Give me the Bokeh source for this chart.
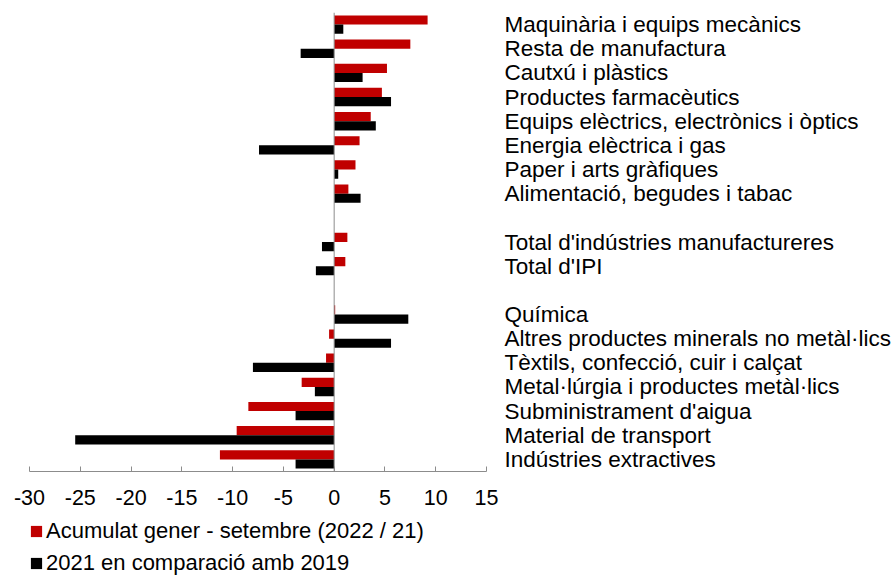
from bokeh.plotting import figure
from bokeh.layouts import column
from bokeh.models import (FactorRange, Range1d, CategoricalAxis, LinearAxis, Span, Legend,
                          LegendItem, ColumnDataSource, FixedTicker)
from bokeh.transform import dodge
from bokeh.embed import file_html
from bokeh.resources import INLINE

# ---- data ----
categories = [
    "Maquinària i equips mecànics",
    "Resta de manufactura",
    "Cautxú i plàstics",
    "Productes farmacèutics",
    "Equips elèctrics, electrònics i òptics",
    "Energia elèctrica i gas",
    "Paper i arts gràfiques",
    "Alimentació, begudes i tabac",
    " ",
    "Total d'indústries manufactureres",
    "Total d'IPI",
    "  ",
    "Química",
    "Altres productes minerals no metàl·lics",
    "Tèxtils, confecció, cuir i calçat",
    "Metal·lúrgia i productes metàl·lics",
    "Subministrament d'aigua",
    "Material de transport",
    "Indústries extractives",
]
acumulat_2022_21 = [9.2, 7.5, 5.2, 4.7, 3.6, 2.5, 2.1, 1.4, None,
                    1.3, 1.1, None,
                    0.1, -0.5, -0.8, -3.2, -8.45, -9.6, -11.25]
comp_2021_2019 = [0.9, -3.3, 2.8, 5.6, 4.1, -7.4, 0.4, 2.6, None,
                  -1.2, -1.8, None,
                  7.3, 5.6, -8.0, -1.9, -3.8, -25.5, -3.8]
x_ticks = [-30, -25, -20, -15, -10, -5, 0, 5, 10, 15]
legend_labels = ["Acumulat gener - setembre (2022 / 21)", "2021 en comparació amb 2019"]

RED = "#C00000"
BLACK = "#000000"
GRAY = "#8C8C8C"
FONT = "Liberation Sans"

rows = [(c, a, b) for c, a, b in zip(categories, acumulat_2022_21, comp_2021_2019) if a is not None]
src = ColumnDataSource(dict(cat=[r[0] for r in rows],
                            red=[r[1] for r in rows],
                            black=[r[2] for r in rows]))

p = figure(width=896, height=516, output_backend="svg", toolbar_location=None,
           x_range=Range1d(-30, 15),
           y_range=FactorRange(factors=list(reversed(categories)), range_padding=0),
           x_axis_location=None, y_axis_location=None,
           min_border_left=29, min_border_right=410, min_border_top=12, min_border_bottom=45)
p.outline_line_color = None
p.xgrid.visible = False
p.ygrid.visible = False
p.background_fill_color = None

p.hbar(y=dodge("cat", 0.19, range=p.y_range), left=0, right="red", height=0.38,
       source=src, fill_color=RED, line_color=None)
p.hbar(y=dodge("cat", -0.19, range=p.y_range), left=0, right="black", height=0.38,
       source=src, fill_color=BLACK, line_color=None)

p.add_layout(Span(location=0, dimension="height", line_color=GRAY, line_width=1))

xa = LinearAxis(ticker=FixedTicker(ticks=x_ticks))
xa.major_label_overrides = {t: str(t) for t in x_ticks}
xa.axis_line_color = GRAY
xa.major_tick_line_color = GRAY
xa.major_tick_in = 5
xa.major_tick_out = 0
xa.minor_tick_line_color = None
xa.major_label_text_font = FONT
xa.major_label_text_font_size = "21.5px"
xa.major_label_text_color = "#000000"
xa.major_label_standoff = 18
p.add_layout(xa, "below")

ya = CategoricalAxis()
ya.axis_line_color = None
ya.major_tick_line_color = None
ya.minor_tick_line_color = None
ya.major_tick_out = 0
ya.major_tick_in = 0
ya.major_label_standoff = 18
ya.major_label_text_font = FONT
ya.major_label_text_font_size = "22.5px"
ya.major_label_text_color = "#000000"
p.add_layout(ya, "right")

# ---- legend strip (renderers hidden; only their legend keys are drawn) ----
lg = figure(width=896, height=61, output_backend="svg", toolbar_location=None,
            x_range=Range1d(0, 1), y_range=FactorRange(factors=list(reversed(categories))),
            x_axis_location=None, y_axis_location=None,
            min_border_left=26, min_border_top=2, min_border_right=0, min_border_bottom=0)
lg.outline_line_color = None
lg.xgrid.visible = False
lg.ygrid.visible = False
lr = lg.hbar(y="cat", left=0, right="red", height=0.4, source=src,
             fill_color=RED, line_color=None, visible=False)
lb = lg.hbar(y="cat", left=0, right="black", height=0.4, source=src,
             fill_color=BLACK, line_color=None, visible=False)
legend = Legend(items=[LegendItem(label=legend_labels[0], renderers=[lr]),
                       LegendItem(label=legend_labels[1], renderers=[lb])],
                location="top_left", orientation="vertical",
                border_line_color=None, background_fill_alpha=0,
                label_text_font=FONT, label_text_font_size="22px",
                label_text_color="#000000",
                glyph_width=14, glyph_height=14, label_standoff=3,
                spacing=6, padding=0, margin=0, label_height=20)
lg.add_layout(legend, "center")

open("out.html", "w").write(file_html(column(p, lg), INLINE))
